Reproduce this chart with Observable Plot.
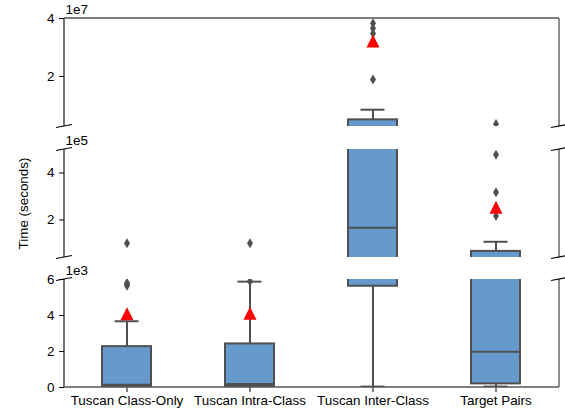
<!DOCTYPE html>
<html><head><meta charset="utf-8">
<script src="https://cdn.jsdelivr.net/npm/d3@7"></script>
<script src="https://cdn.jsdelivr.net/npm/@observablehq/plot@0.6"></script>
<style>
body{margin:0;background:#fff;}
#chart{width:565px;height:410px;position:relative;}
#chart svg{display:block;overflow:visible;}
#chart svg text{font-size:13.4px !important;font-family:'Liberation Sans', Arial, sans-serif !important;}
</style></head><body><div id="chart"></div>
<script>
// ---- data ----
const categories = ["Tuscan Class-Only", "Tuscan Intra-Class", "Tuscan Inter-Class", "Target Pairs"];
const q1Values = [60, 60, 5630, 200];
const medianValues = [150, 200, 167000, 1990];
const q3Values = [2270, 2420, 5000000, 66000];
const whiskerLowValues = [0, 0, 50, 50];
const whiskerHighValues = [3680, 5880, 8500000, 107000];
const meanValues = [4100, 4120, 32200000, 254000];
const outlierCategories = [
  "Tuscan Class-Only", "Tuscan Class-Only", "Tuscan Class-Only", "Tuscan Class-Only", "Tuscan Class-Only",
  "Tuscan Intra-Class", "Tuscan Intra-Class", "Tuscan Intra-Class",
  "Tuscan Inter-Class", "Tuscan Inter-Class", "Tuscan Inter-Class", "Tuscan Inter-Class",
  "Target Pairs", "Target Pairs", "Target Pairs", "Target Pairs"
];
const outlierValues = [
  5650, 5750, 5800, 23000, 101000,
  5900, 23000, 101000,
  18900000, 34800000, 36600000, 38400000,
  217000, 318000, 478000, 3600000
];
const panelDomains = [[2.7e6, 4e7], [4e4, 5e5], [0, 6e3]];
const panelTicks = [[2e7, 4e7], [2e5, 4e5], [0, 2e3, 4e3, 6e3]];
const panelExponents = ["1e7", "1e5", "1e3"];
const panelDivisors = [1e7, 1e5, 1e3];
const yLabel = "Time (seconds)";

// ---- build tables ----
const boxes = categories.map((c, i) => ({
  cat: c, q1: q1Values[i], median: medianValues[i], q3: q3Values[i],
  lo: whiskerLowValues[i], hi: whiskerHighValues[i], mean: meanValues[i]
}));
const outliers = outlierValues.map((v, i) => ({cat: outlierCategories[i], value: v}));

const thinDiamond = {
  draw(ctx, size) {
    const h = Math.sqrt(size / Math.PI);
    ctx.moveTo(0, -h); ctx.lineTo(0.6 * h, 0); ctx.lineTo(0, h); ctx.lineTo(-0.6 * h, 0); ctx.closePath();
  }
};
const triangleUp = {
  draw(ctx, size) {
    const h = Math.sqrt(size / Math.PI);
    ctx.moveTo(0, -h); ctx.lineTo(h, h); ctx.lineTo(-h, h); ctx.closePath();
  }
};

const W = 565, ML = 64, MR = 6;
const layout = [
  {height: 138, mt: 18, mb: 12},
  {height: 130, mt: 11, mb: 11},
  {height: 142, mt: 11, mb: 23}
];
const fill = "#6699cc", edge = "#505050";
const font = "'Liberation Sans', Arial, Helvetica, sans-serif";
const fs = 13.4;

const chart = document.getElementById("chart");
layout.forEach((L, p) => {
  const marks = [
    Plot.ruleX(boxes, {x: "cat", y1: "q3", y2: "hi", stroke: edge, strokeWidth: 2, clip: true}),
    Plot.ruleX(boxes, {x: "cat", y1: "lo", y2: "q1", stroke: edge, strokeWidth: 2, clip: true}),
    Plot.tickY(boxes, {x: "cat", y: "hi", stroke: edge, strokeWidth: 2, insetLeft: 12.5, insetRight: 12.5, clip: true}),
    Plot.tickY(boxes, {x: "cat", y: "lo", stroke: edge, strokeWidth: 2, insetLeft: 12.5, insetRight: 12.5, clip: true}),
    Plot.barY(boxes, {x: "cat", y1: "q1", y2: "q3", fill, stroke: edge, strokeWidth: 2, clip: true}),
    Plot.tickY(boxes, {x: "cat", y: "median", stroke: edge, strokeWidth: 2, clip: true}),
    Plot.dot(outliers, {x: "cat", y: "value", symbol: thinDiamond, r: 5, fill: edge, stroke: null, clip: true}),
    Plot.dot(boxes, {x: "cat", y: "mean", symbol: triangleUp, r: 6.5, fill: "red", stroke: null, clip: true}),
    Plot.axisY(panelTicks[p], {tickFormat: d => d3.format("d")(Math.round(d / panelDivisors[p])), tickSize: 5, tickPadding: 5, label: null, fontSize: fs}),
    Plot.text([panelExponents[p]], {frameAnchor: "top-left", dy: -9, dx: 1, textAnchor: "start", lineAnchor: "middle", fontSize: fs, fill: "black"})
  ];
  if (p === 1) {
    marks.push(Plot.text([yLabel], {frameAnchor: "left", dx: -41, rotate: -90, textAnchor: "middle", lineAnchor: "middle", fontSize: fs, fill: "black"}));
  }
  if (p === 2) {
    marks.push(Plot.axisX({tickSize: 5, tickPadding: 3, label: null, fontSize: fs}));
  }
  const svg = Plot.plot({
    width: W, height: L.height,
    marginLeft: ML, marginRight: MR, marginTop: L.mt, marginBottom: L.mb,
    style: {fontFamily: font, fontSize: fs + "px", color: "black", background: "white", overflow: "visible"},
    x: {domain: categories, paddingInner: 0.6, paddingOuter: 0.3, axis: null, label: null},
    y: {domain: panelDomains[p], axis: null, label: null},
    marks
  });
  chart.appendChild(svg);
  // spines and break marks (decoration)
  const s = d3.select(svg);
  const x0 = ML, x1 = W - MR, y0 = L.mt, y1 = L.height - L.mb;
  const g = s.append("g").attr("fill", "none");
  g.append("line").attr("x1", x0).attr("x2", x0).attr("y1", y0).attr("y2", y1).attr("stroke", "black").attr("stroke-width", 1.1);
  g.append("line").attr("x1", x1).attr("x2", x1).attr("y1", y0).attr("y2", y1).attr("stroke", "#333").attr("stroke-width", 1.1);
  if (p === 0) g.append("line").attr("x1", x0).attr("x2", x1).attr("y1", y0).attr("y2", y0).attr("stroke", "#555").attr("stroke-width", 1.5);
  if (p === 2) g.append("line").attr("x1", x0).attr("x2", x1).attr("y1", y1).attr("y2", y1).attr("stroke", "#555").attr("stroke-width", 1.5);
  const brk = (x, y) => g.append("line").attr("x1", x - 8).attr("x2", x + 8).attr("y1", y + 1.5).attr("y2", y - 1.5).attr("stroke", "black").attr("stroke-width", 1.2);
  if (p > 0) { brk(x0, y0); brk(x1, y0); }
  if (p < 2) { brk(x0, y1); brk(x1, y1); }
});
</script></body></html>
